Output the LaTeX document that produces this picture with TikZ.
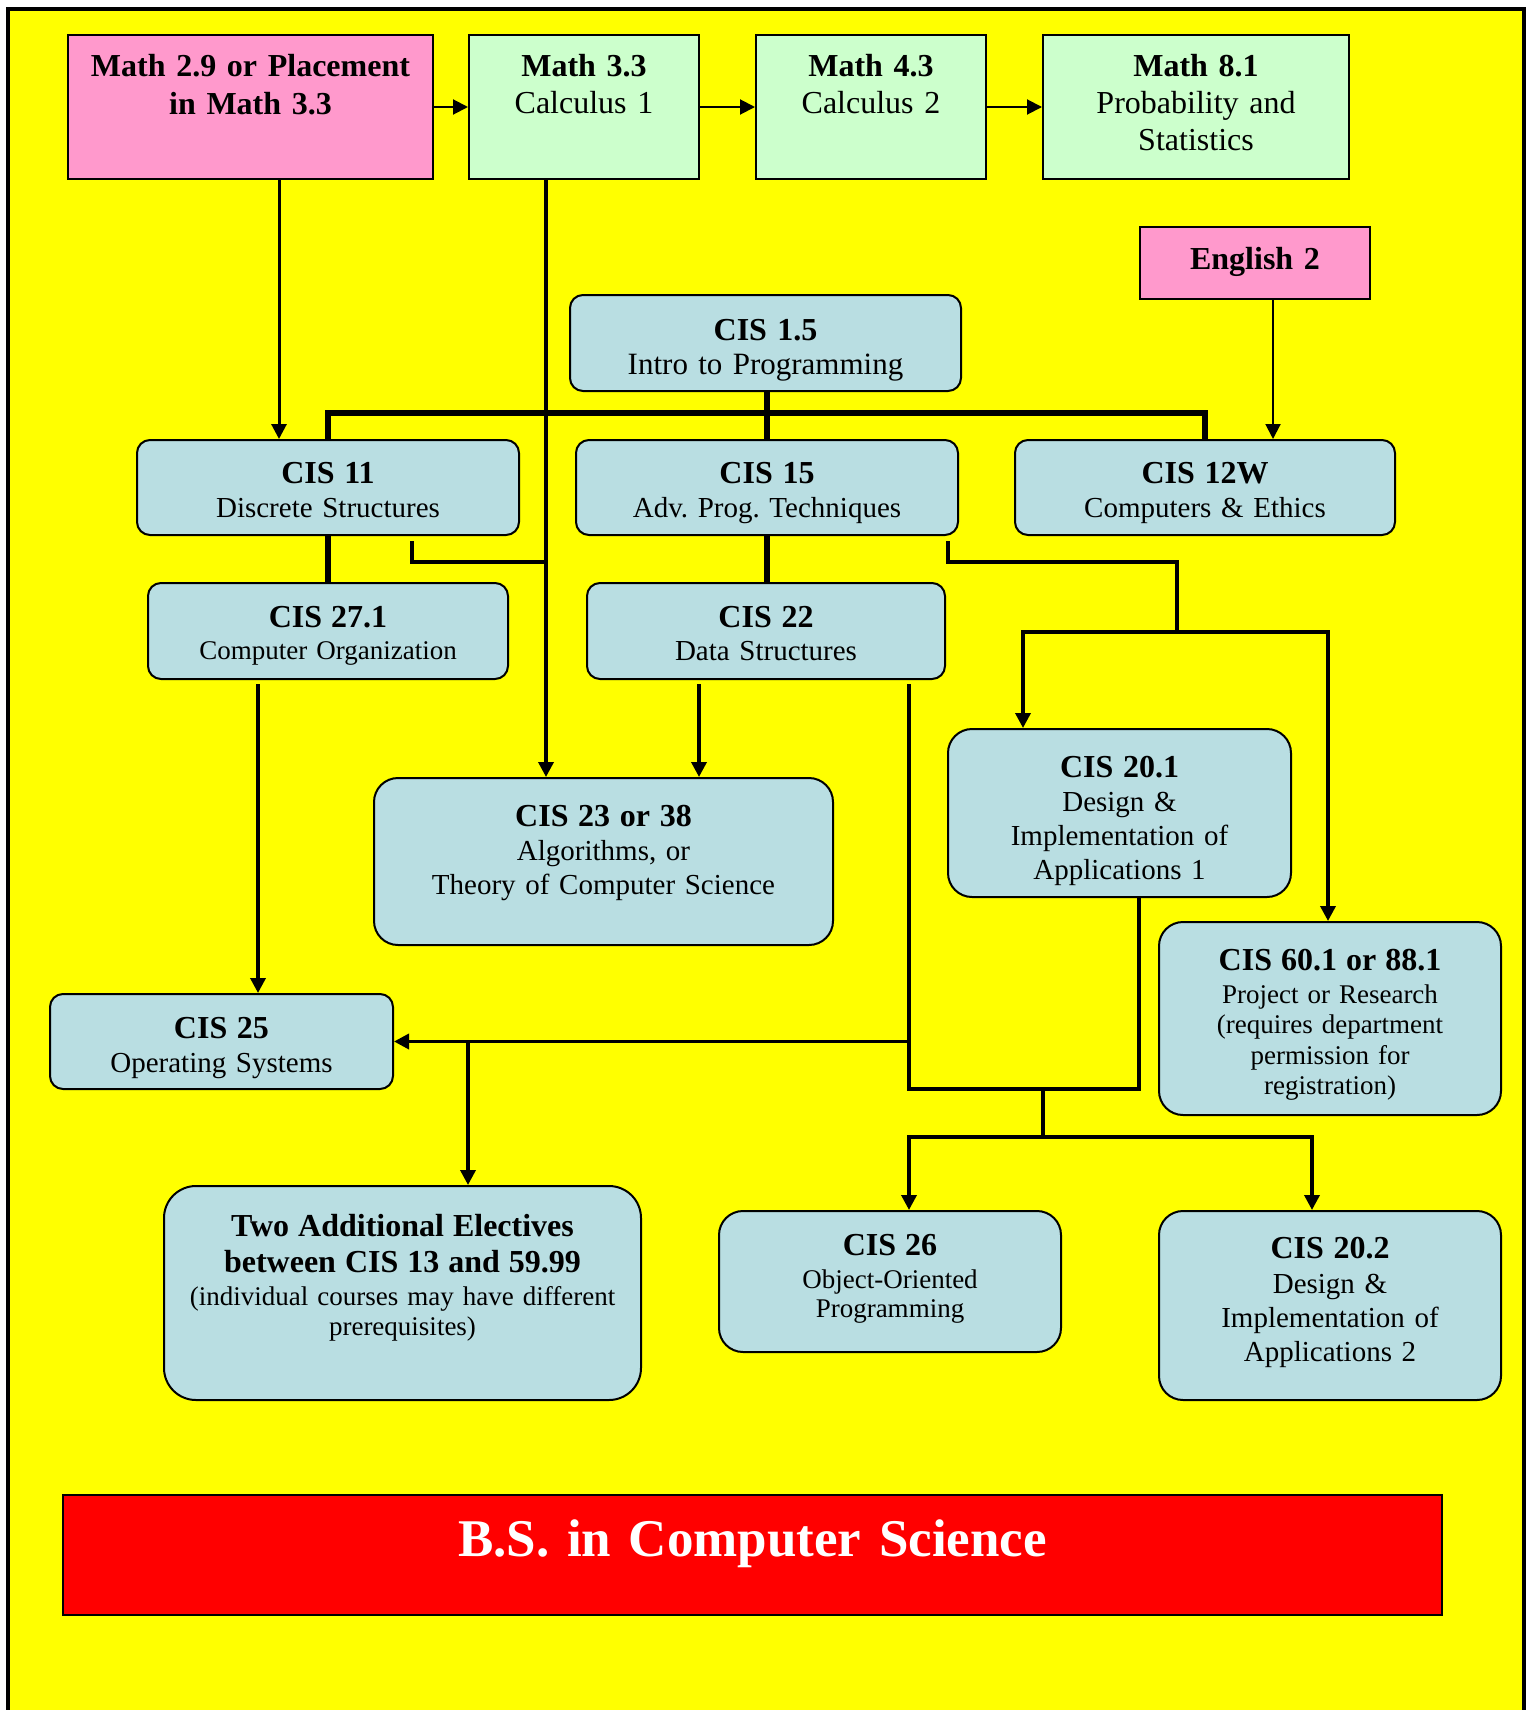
\documentclass[tikz,border=0pt]{standalone}
\usepackage{fontspec}
\setmainfont{Liberation Serif}
\frenchspacing
\usetikzlibrary{arrows.meta}
\definecolor{bgyellow}{RGB}{255,255,0}
\definecolor{mathpink}{RGB}{255,153,204}
\definecolor{mathgreen}{RGB}{204,255,204}
\definecolor{cisblue}{RGB}{185,222,226}
\definecolor{bannerred}{RGB}{255,0,0}
\newcommand{\hd}[1]{{\bfseries\fontsize{32}{34}\selectfont #1}}
\tikzset{
  box/.style={draw=black, line width=2pt, inner sep=0pt, align=center, anchor=north west},
  cis/.style={box, fill=cisblue, rounded corners=13pt},
  cisbig/.style={box, fill=cisblue, rounded corners=24pt},
  mpink/.style={box, fill=mathpink},
  mgreen/.style={box, fill=mathgreen},
  thinline/.style={line width=2pt},
  conn/.style={line width=3.5pt},
  busline/.style={line width=6pt},
  tip/.style={-{Triangle[length=15pt,width=15pt]}},
}
\begin{document}
\begin{tikzpicture}[x=1pt,y=-1pt]
\useasboundingbox (0,0) rectangle (1533,1710);
\fill[white] (0,0) rectangle (1533,1710);
\fill[bgyellow] (8,9) rectangle (1523.5,1710);
\draw[line width=4pt] (8,1712) -- (8,9) -- (1523.5,9) -- (1523.5,1712);

% top row
\node[mpink, text width=365pt, text height=41pt, text depth=103pt, font=\bfseries\fontsize{32}{38}\selectfont] (m29) at (67,34) {Math 2.9 or Placement\\in Math 3.3};
\node[mgreen, text width=230pt, text height=41pt, text depth=103pt, font=\fontsize{32}{37}\selectfont] (m33) at (468,34) {{\bfseries Math 3.3}\\Calculus 1};
\node[mgreen, text width=230pt, text height=41pt, text depth=103pt, font=\fontsize{32}{37}\selectfont] (m43) at (755,34) {{\bfseries Math 4.3}\\Calculus 2};
\node[mgreen, text width=306pt, text height=41pt, text depth=103pt, font=\fontsize{32}{37}\selectfont] (m81) at (1042,34) {{\bfseries Math 8.1}\\Probability and\\Statistics};
\node[mpink, text width=230pt, text height=42pt, text depth=30pt, font=\bfseries\fontsize{32}{37}\selectfont] (eng2) at (1139,226) {English 2};

% CIS 1.5
\node[cis, text width=391pt, text height=45pt, text depth=51pt, font=\fontsize{31}{34}\selectfont] (c15) at (569,294) {\hd{CIS 1.5}\\Intro to Programming};

% row 2
\node[cis, text width=382pt, text height=43pt, text depth=52pt, font=\fontsize{29}{34}\selectfont] (cis11) at (136,439) {\hd{CIS 11}\\Discrete Structures};
\node[cis, text width=382pt, text height=43pt, text depth=52pt, font=\fontsize{29}{34}\selectfont] (cis15) at (575,439) {\hd{CIS 15}\\Adv. Prog. Techniques};
\node[cis, text width=380pt, text height=43pt, text depth=52pt, font=\fontsize{29}{34}\selectfont] (cis12w) at (1014,439) {\hd{CIS 12W}\\Computers \& Ethics};

% row 3
\node[cis, text width=360pt, text height=44pt, text depth=52pt, font=\fontsize{27}{32}\selectfont] (cis271) at (147,582) {\hd{CIS 27.1}\\Computer Organization};
\node[cis, text width=358pt, text height=44pt, text depth=52pt, font=\fontsize{29}{33}\selectfont] (cis22) at (586,582) {\hd{CIS 22}\\Data Structures};

% middle
\node[cisbig, text width=459pt, text height=48pt, text depth=119pt, font=\fontsize{29}{34}\selectfont] (cis23) at (373,777) {\hd{CIS 23 or 38}\\Algorithms, or\\Theory of Computer Science};
\node[cisbig, text width=343pt, text height=48pt, text depth=120pt, font=\fontsize{29}{34}\selectfont] (cis201) at (947,728) {\hd{CIS 20.1}\\Design \&\\Implementation of\\Applications 1};
\node[cisbig, text width=342pt, text height=48pt, text depth=145pt, font=\fontsize{27}{30.5}\selectfont] (cis601) at (1158,921) {\hd{CIS 60.1 or 88.1}\\[2.5pt]Project or Research\\(requires department\\permission for\\registration)};
\node[cis, text width=343pt, text height=44pt, text depth=51pt, font=\fontsize{29}{34}\selectfont] (cis25) at (49,993) {\hd{CIS 25}\\Operating Systems};

% bottom row
\node[box, fill=cisblue, rounded corners=32pt, text width=477pt, text height=50pt, text depth=164pt, font=\fontsize{27}{30}\selectfont] (elec) at (163,1185) {{\bfseries\fontsize{32}{34}\selectfont Two Additional Electives}\\[6pt]{\bfseries\fontsize{32}{34}\selectfont between CIS 13 and 59.99}\\[3pt](individual courses may have different\\prerequisites)};
\node[cisbig, text width=342pt, text height=44pt, text depth=97pt, font=\fontsize{27}{29}\selectfont] (cis26) at (718,1210) {\hd{CIS 26}\\[4pt]Object-Oriented\\Programming};
\node[cisbig, text width=342pt, text height=47pt, text depth=142pt, font=\fontsize{29}{34}\selectfont] (cis202) at (1158,1210) {\hd{CIS 20.2}\\[1pt]Design \&\\Implementation of\\Applications 2};

% banner
\node[box, fill=bannerred, text=white, text width=1379pt, text height=61pt, text depth=59pt, font=\bfseries\fontsize{53}{60}\selectfont] (banner) at (62,1494) {B.S. in Computer Science};

% connector coordinates
\coordinate (xA) at (279,0);
\coordinate (xE) at (1273,0);
\coordinate (xM) at (546,0);
\coordinate (xS) at (412,0);
\coordinate (yS) at (0,562);
\coordinate (x15) at (948,0);
\coordinate (xR) at (1177,0);
\coordinate (yR) at (0,632);
\coordinate (x201) at (1023,0);
\coordinate (x601) at (1328,0);
\coordinate (x271) at (258,0);
\coordinate (x22) at (699,0);
\coordinate (xD) at (909,0);
\coordinate (yB) at (0,1089);
\coordinate (x201b) at (1139,0);
\coordinate (xEl) at (468,0);
\coordinate (xJ) at (1043,0);
\coordinate (yC) at (0,1137);
\coordinate (x202) at (1312,0);
\coordinate (bus) at (0,413);

% top arrows
\draw[thinline,tip] (m29) -- (m33);
\draw[thinline,tip] (m33) -- (m43);
\draw[thinline,tip] (m43) -- (m81);
\draw[conn,tip,line width=3pt] (xA |- m29.south) -- (xA |- cis11.north);
\draw[thinline,tip] (xE |- eng2.south) -- (xE |- cis12w.north);

% bus from CIS 1.5
\draw[busline] (cis15.north |- c15.south) -- (cis15.north);
\draw[busline, line cap=rect] (cis11.north |- bus) -- (cis12w.north |- bus);
\draw[busline] (cis11.north |- bus) -- (cis11.north);
\draw[busline] (cis12w.north |- bus) -- (cis12w.north);

% Math 3.3 to CIS 23
\draw[conn,tip] (xM |- m33.south) -- (xM |- cis23.north);

% CIS 11 links
\draw[busline] (cis11.south) -- (cis271.north);
\draw[conn] ([yshift=-5pt]xS |- cis11.south) -- (xS |- yS) -- (xM |- yS);

% CIS 15 links
\draw[busline] (cis15.south) -- (cis15.south |- cis22.north);
\draw[conn] ([yshift=-5pt]x15 |- cis15.south) -- (x15 |- yS) -- (xR |- yS) -- (xR |- yR);
\draw[conn,tip] (xR |- yR) -- (x201 |- yR) -- (x201 |- cis201.north);
\draw[conn,tip] (xR |- yR) -- (x601 |- yR) -- (x601 |- cis601.north);

% CIS 27.1 to CIS 25
\draw[conn,tip] ([yshift=-4pt]x271 |- cis271.south) -- (x271 |- cis25.north);

% CIS 22 links
\draw[conn,tip] ([yshift=-4pt]x22 |- cis22.south) -- (x22 |- cis23.north);
\draw[conn] ([yshift=-4pt]xD |- cis22.south) -- (xD |- yB) -- (x201b |- yB) -- (x201b |- cis201.south);
\draw[conn,tip] (xD |- cis25.east) -- (cis25.east);
\draw[conn,tip] (xEl |- cis25.east) -- (xEl |- elec.north);

% to CIS 26 and CIS 20.2
\draw[conn] (xJ |- yB) -- (xJ |- yC);
\draw[conn,tip] (xJ |- yC) -- (xD |- yC) -- (xD |- cis26.north);
\draw[conn,tip] (xJ |- yC) -- (x202 |- yC) -- (x202 |- cis202.north);
\end{tikzpicture}
\end{document}
